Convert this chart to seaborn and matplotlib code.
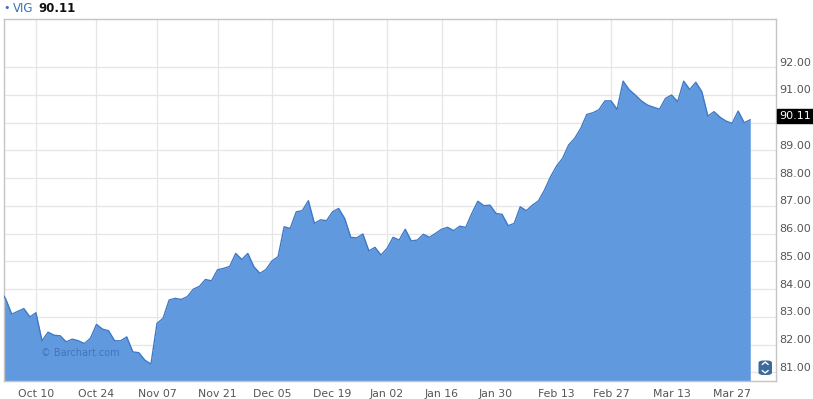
import numpy as np
import pandas as pd
import matplotlib
matplotlib.use("Agg")
import matplotlib.pyplot as plt
import seaborn as sns
from matplotlib.transforms import ScaledTranslation, blended_transform_factory
from matplotlib.patches import FancyBboxPatch
from matplotlib.lines import Line2D

# ---------------- data ----------------
symbol = "VIG"
last_price = 90.11
start_date = "2016-09-30"
end_date = "2017-03-30"
market_holidays = ["2016-11-24", "2016-12-26", "2017-01-02", "2017-01-16", "2017-02-20"]

closes = [
    84.00, 83.65, 83.10, 83.20, 83.30, 83.00, 83.15, 82.14, 82.45, 82.34,
    82.32, 82.10, 82.20, 82.14, 82.04, 82.23, 82.73, 82.56, 82.50, 82.14,
    82.14, 82.28, 81.74, 81.71, 81.44, 81.30, 82.77, 82.95, 83.61, 83.67,
    83.63, 83.73, 84.00, 84.10, 84.35, 84.30, 84.70, 84.75, 84.82, 85.29,
    85.07, 85.29, 84.81, 84.57, 84.71, 85.02, 85.17, 86.25, 86.19, 86.79,
    86.83, 87.19, 86.37, 86.50, 86.47, 86.79, 86.91, 86.55, 85.87, 85.85,
    85.99, 85.38, 85.51, 85.23, 85.47, 85.87, 85.77, 86.16, 85.74, 85.77,
    85.98, 85.87, 86.01, 86.16, 86.23, 86.11, 86.27, 86.23, 86.73, 87.17,
    87.01, 87.03, 86.73, 86.70, 86.29, 86.37, 86.97, 86.83, 87.03, 87.18,
    87.57, 88.05, 88.44, 88.72, 89.20, 89.44, 89.80, 90.30, 90.36, 90.47,
    90.79, 90.79, 90.48, 91.50, 91.19, 91.00, 90.79, 90.64, 90.56, 90.49,
    90.88, 91.00, 90.76, 91.50, 91.20, 91.46, 91.12, 90.24, 90.40, 90.20,
    90.06, 89.98, 90.42, 90.00, 90.11,
]

tick_dates = ["2016-10-10", "2016-10-24", "2016-11-07", "2016-11-21", "2016-12-05",
              "2016-12-19", "2017-01-02", "2017-01-16", "2017-01-30", "2017-02-13",
              "2017-02-27", "2017-03-13", "2017-03-27"]
tick_labels = ["Oct 10", "Oct 24", "Nov 07", "Nov 21", "Dec 05", "Dec 19", "Jan 02",
               "Jan 16", "Jan 30", "Feb 13", "Feb 27", "Mar 13", "Mar 27"]
price_ticks = [81, 82, 83, 84, 85, 86, 87, 88, 89, 90, 91, 92]

# ---------------- styling ----------------
fill_color = "#6199df"
line_color = "#3f79c6"
grid_color = "#e6e6e6"
frame_color = "#c4c4c4"
label_color = "#555555"

dates = pd.bdate_range(start_date, end_date, freq="C", holidays=market_holidays)
n = min(len(dates), len(closes))
df = pd.DataFrame({"day": np.arange(n), "close": closes[:n]})
tick_pos = dates.searchsorted(pd.to_datetime(tick_dates))

sns.set_style("white")
plt.rcParams["font.family"] = ["DejaVu Sans"]

fig = plt.figure(figsize=(8.13, 3.99), dpi=100)
ax = fig.add_axes([3.5 / 813, 1 - 381 / 399, (775.7 - 3.5) / 813, (381 - 19.3) / 399])

ax.fill_between(df["day"], df["close"], 79.0, color=fill_color, linewidth=0, zorder=2)
sns.lineplot(data=df, x="day", y="close", ax=ax, color=line_color, linewidth=1.0, zorder=3)

ax.set_xlim(0.64, 128.2)
ax.set_ylim(80.69, 93.73)

ax.set_xticks(tick_pos)
ax.set_xticklabels(tick_labels)
ax.set_yticks(price_ticks)
ax.set_yticklabels(["" if abs(v - last_price) < 0.5 else f"{v:.2f}" for v in price_ticks])
ax.yaxis.tick_right()
ax.set_xlabel("")
ax.set_ylabel("")

ax.grid(True, color=grid_color, linewidth=0.9, zorder=0)
ax.set_axisbelow(True)
for s in ax.spines.values():
    s.set_color(frame_color)
    s.set_linewidth(1.0)

ax.tick_params(axis="x", length=5, width=0.8, color=frame_color, pad=1,
               labelsize=7.8, labelcolor=label_color)
ax.tick_params(axis="y", length=0, pad=2.5, labelsize=8, labelcolor=label_color)

# y labels sit slightly above their gridlines
off = ScaledTranslation(0, 5.6 / 100, fig.dpi_scale_trans)
for lab in ax.get_yticklabels():
    lab.set_transform(lab.get_transform() + off)

# last price box
tr = blended_transform_factory(ax.transAxes, ax.transData)
ax.text(1.0, last_price, f"{last_price:.2f}",
        transform=tr + ScaledTranslation(3.5 / 100, 3.7 / 100, fig.dpi_scale_trans),
        ha="left", va="center", fontsize=8, color="white", zorder=10, clip_on=False,
        bbox=dict(boxstyle="square,pad=0.18", facecolor="black", edgecolor="black"))

# watermark
ax.text(0.049, 0.068, "\u00a9 Barchart.com", transform=ax.transAxes, fontsize=7,
        color="#4274bb", zorder=4)

# header
fig.text(3 / 813, 1 - 8 / 399, "\u2022", color="#3a70b8", fontsize=8, va="center")
fig.text(12.5 / 813, 1 - 8 / 399, symbol, color="#3a70b8", fontsize=8.5, va="center")
fig.text(38.5 / 813, 1 - 8 / 399, f"{last_price:.2f}", color="#111111", fontsize=8.5,
         fontweight="bold", va="center")

# scroll button
btn = FancyBboxPatch((758.5 / 813, 1 - 375 / 399), 13.5 / 813, 14.5 / 399,
                     boxstyle="round,pad=0.0,rounding_size=0.006",
                     transform=fig.transFigure, facecolor="#3d6a9c", edgecolor="none", zorder=20)
fig.patches.append(btn)
cx = 765.2 / 813
for y0, y1 in [(364.5, 362.0), (370.5, 373.0)]:
    fig.lines.append(Line2D([cx - 3 / 813, cx, cx + 3 / 813],
                            [1 - y0 / 399, 1 - y1 / 399, 1 - y0 / 399],
                            transform=fig.transFigure, color="white", linewidth=1.0, zorder=21))

fig.savefig("out.png", dpi=100)
